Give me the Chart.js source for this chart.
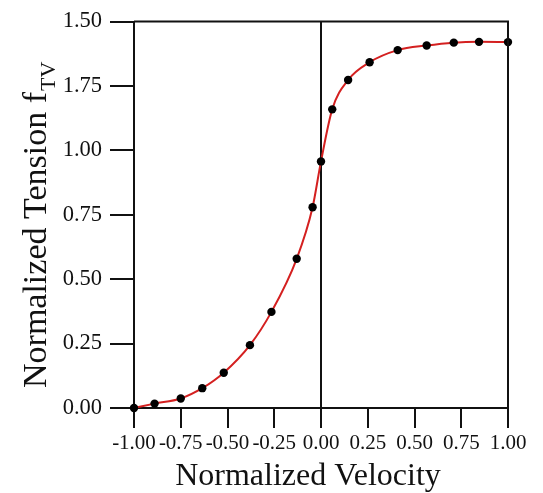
<!DOCTYPE html>
<html>
<head>
<meta charset="utf-8">
<script src="https://cdn.jsdelivr.net/npm/chart.js@4/dist/chart.umd.min.js"></script>
<style>
  html, body { margin: 0; padding: 0; background: #fff; }
  #wrap { width: 543px; height: 493px; }
</style>
</head>
<body>
<div id="wrap"><canvas id="graphTension"></canvas></div>
<script>
// data
const velocity = [-1.00, -0.89, -0.75, -0.635, -0.52, -0.38, -0.265, -0.13, -0.045, 0.00, 0.06, 0.145, 0.26, 0.41, 0.565, 0.71, 0.845, 1.00];
const tension = [0.00, 0.017, 0.037, 0.077, 0.137, 0.244, 0.373, 0.579, 0.779, 0.957, 1.159, 1.273, 1.342, 1.389, 1.407, 1.418, 1.421, 1.420];
const yTickLabels = ['0.00', '0.25', '0.50', '0.75', '1.00', '1.75', '1.50']; // as printed in the original
const xTitle = 'Normalized Velocity';
const yTitle = 'Normalized Tension f';
const ySub = 'TV';

const FONT = '"Liberation Serif", "Times New Roman", serif';
const points = velocity.map((v, i) => ({ x: v, y: tension[i] }));

// frame (top + right border) and axis titles
const framePlugin = {
  id: 'frame',
  afterDraw(chart) {
    const { ctx, chartArea: a } = chart;
    ctx.save();
    ctx.strokeStyle = '#111';
    ctx.lineWidth = 2;
    ctx.beginPath();
    ctx.moveTo(a.left, a.top);
    ctx.lineTo(a.right, a.top);
    ctx.lineTo(a.right, a.bottom);
    ctx.stroke();

    ctx.fillStyle = '#111';
    ctx.textBaseline = 'alphabetic';
    // x title
    ctx.font = '32px ' + FONT;
    ctx.textAlign = 'center';
    ctx.fillText(xTitle, 308, 485);

    // y title, rotated, with subscript
    ctx.translate(46, 388);
    ctx.rotate(-Math.PI / 2);
    ctx.textAlign = 'left';
    ctx.font = '34px ' + FONT;
    ctx.fillText(yTitle, 0, 0);
    const w = ctx.measureText(yTitle).width;
    ctx.font = '22px ' + FONT;
    ctx.fillText(ySub, w + 1, 9);
    ctx.restore();
  }
};

new Chart(document.getElementById('graphTension'), {
  type: 'line',
  data: {
    datasets: [{
      data: points,
      borderColor: '#d42020',
      borderWidth: 2,
      cubicInterpolationMode: 'monotone',
      pointRadius: 4.2,
      pointBackgroundColor: '#000',
      pointBorderColor: '#000',
      pointBorderWidth: 0,
      clip: false
    }]
  },
  options: {
    responsive: true,
    maintainAspectRatio: false,
    animation: false,
    layout: { padding: { left: 0, right: 35, top: 16, bottom: 0 } },
    plugins: {
      legend: { display: false },
      tooltip: { enabled: false }
    },
    scales: {
      x: {
        type: 'linear',
        min: -1,
        max: 1,
        afterFit: s => { s.height = 85; },
        ticks: {
          stepSize: 0.25,
          color: '#111',
          padding: 3,
          maxRotation: 0,
          autoSkip: false,
          font: { family: FONT, size: 21 },
          callback: v => v.toFixed(2)
        },
        grid: {
          drawOnChartArea: true,
          color: c => (c.tick && c.tick.value === 0 ? '#111' : 'rgba(0,0,0,0)'),
          lineWidth: 2,
          tickColor: '#111',
          tickLength: 20
        },
        border: { display: true, color: '#111', width: 2 }
      },
      y: {
        min: 0,
        max: 1.5,
        afterFit: s => { s.width = 134; },
        ticks: {
          stepSize: 0.25,
          color: '#111',
          padding: 8,
          autoSkip: false,
          font: { family: FONT, size: 22.5 },
          callback: (v, i) => yTickLabels[i]
        },
        grid: {
          drawOnChartArea: false,
          lineWidth: 2,
          tickColor: '#111',
          tickLength: 24
        },
        border: { display: true, color: '#111', width: 2 }
      }
    }
  },
  plugins: [framePlugin]
});
</script>
</body>
</html>
